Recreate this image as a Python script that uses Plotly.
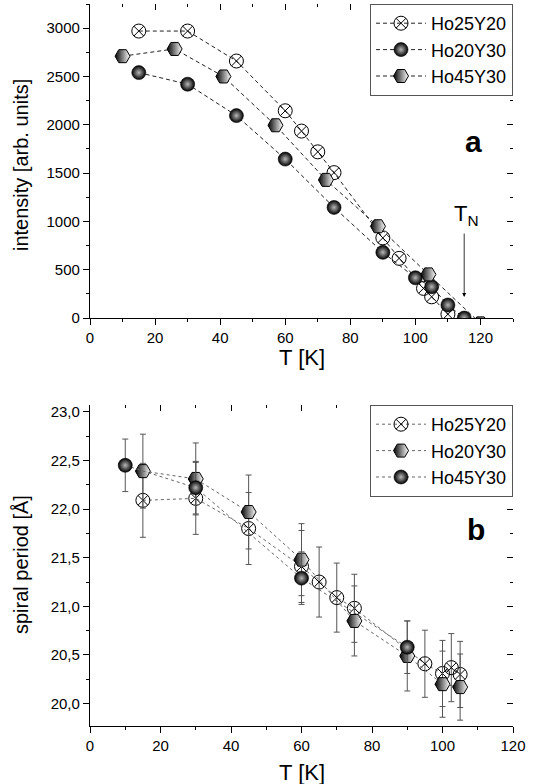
import plotly.graph_objects as go

# ---------- panel a : intensity vs T ----------
a_T_25 = [15, 30, 45, 60, 65, 70, 75, 90, 95, 102.5, 105, 110]
a_I_25 = [2970, 2970, 2660, 2145, 1935, 1720, 1505, 830, 618, 307, 220, 40]
a_T_20 = [15, 30, 45, 60, 75, 90, 100, 105, 110, 115]
a_I_20 = [2540, 2420, 2095, 1645, 1145, 680, 417, 324, 135, 0]
a_T_45 = [10, 26, 41, 57, 72.5, 88.5, 104, 120]
a_I_45 = [2710, 2785, 2500, 1995, 1430, 950, 452, -55]

# ---------- panel b : spiral period vs T ----------
b_T_25 = [15, 30, 45, 60, 65, 70, 75, 95, 100, 102.5, 105]
b_P_25 = [22.09, 22.11, 21.80, 21.41, 21.25, 21.09, 20.98, 20.41, 20.31, 20.37, 20.30]
b_E_25 = [0.38, 0.37, 0.37, 0.37, 0.36, 0.355, 0.35, 0.345, 0.34, 0.35, 0.34]
b_T_20 = [15, 30, 45, 60, 75, 90, 100, 105]
b_P_20 = [22.39, 22.31, 21.97, 21.48, 20.85, 20.49, 20.20, 20.17]
b_E_20 = [0.38, 0.37, 0.38, 0.37, 0.36, 0.36, 0.34, 0.34]
b_T_45 = [10, 30, 60, 90]
b_P_45 = [22.45, 22.22, 21.29, 20.58]
b_E_45 = [0.27, 0.27, 0.27, 0.27]

names = ["Ho25Y20", "Ho20Y30", "Ho45Y30"]

FONT = "Liberation Sans, Arial, sans-serif"

cross = dict(symbol="circle-x-open", size=14, color="black", line=dict(width=1, color="black"))
sphere = dict(symbol="circle", size=14, color="black",
              gradient=dict(type="radial", color="#b8b8b8"), line=dict(width=0.6, color="black"))
hexm = dict(symbol="hexagon2", size=15, color="black",
            gradient=dict(type="horizontal", color="white"), line=dict(width=1, color="black"))

dash_a = dict(color="#222", width=1, dash="4px,3px")
dot_b = dict(color="#666", width=1, dash="dot")

fig = go.Figure()

# panel a
fig.add_trace(go.Scatter(x=a_T_25, y=a_I_25, mode="lines+markers", name=names[0],
                         line=dash_a, marker=cross, xaxis="x", yaxis="y", legend="legend"))
fig.add_trace(go.Scatter(x=a_T_20, y=a_I_20, mode="lines+markers", name=names[1],
                         line=dash_a, marker=sphere, xaxis="x", yaxis="y", legend="legend"))
fig.add_trace(go.Scatter(x=a_T_45, y=a_I_45, mode="lines+markers", name=names[2],
                         line=dash_a, marker=hexm, xaxis="x", yaxis="y", legend="legend"))

# panel b
eb = dict(type="data", color="#555", thickness=1, width=3)
fig.add_trace(go.Scatter(x=b_T_25, y=b_P_25, mode="lines+markers", name=names[0],
                         error_y=dict(eb, array=b_E_25),
                         line=dot_b, marker=cross, xaxis="x2", yaxis="y2", legend="legend2"))
fig.add_trace(go.Scatter(x=b_T_20, y=b_P_20, mode="lines+markers", name=names[1],
                         error_y=dict(eb, array=b_E_20),
                         line=dot_b, marker=hexm, xaxis="x2", yaxis="y2", legend="legend2"))
fig.add_trace(go.Scatter(x=b_T_45, y=b_P_45, mode="lines+markers", name=names[2],
                         error_y=dict(eb, array=b_E_45),
                         line=dot_b, marker=sphere, xaxis="x2", yaxis="y2", legend="legend2"))

dom_a = [0.565, 1.0]
dom_b = [0.0, 0.4446]
xr_a = [0, 130]
yr_a = [0, 3250]
xr_b = [0, 120]
yr_b = [19.77, 23.07]

tickfont = dict(family=FONT, size=15, color="black")
base = dict(showline=True, linecolor="black", linewidth=1.2, showgrid=False, zeroline=False,
            ticks="outside", ticklen=6, tickwidth=1, tickcolor="black", tickfont=tickfont,
            automargin=False)
mirror_base = dict(showline=False, showgrid=False, zeroline=False, ticks="inside", ticklen=6,
                   tickwidth=1, tickcolor="black", showticklabels=False, automargin=False)

legfont = dict(family=FONT, size=18, color="black")

fig.update_layout(
    width=541, height=784,
    margin=dict(l=90, r=28, t=4, b=58),
    paper_bgcolor="white", plot_bgcolor="white",
    separators=", ",
    font=dict(family=FONT, color="black"),
    xaxis=dict(base, domain=[0, 1], anchor="y", range=xr_a, dtick=20,
               minor=dict(dtick=10, ticks="outside", ticklen=3, tickcolor="black")),
    yaxis=dict(base, domain=dom_a, anchor="x", range=yr_a, dtick=500, tickformat="d",
               minor=dict(dtick=250, ticks="outside", ticklen=3, tickcolor="black")),
    xaxis3=dict(mirror_base, overlaying="x", side="top", anchor="y", range=xr_a, dtick=20,
                minor=dict(dtick=10, ticks="inside", ticklen=3, tickcolor="black")),
    yaxis3=dict(mirror_base, overlaying="y", side="right", anchor="x", range=yr_a, dtick=500,
                minor=dict(dtick=250, ticks="inside", ticklen=3, tickcolor="black")),
    xaxis2=dict(base, domain=[0, 1], anchor="y2", range=xr_b, dtick=20,
                minor=dict(dtick=10, ticks="outside", ticklen=3, tickcolor="black")),
    yaxis2=dict(base, domain=dom_b, anchor="x2", range=yr_b, dtick=0.5, tick0=20, tickformat=".1f",
                minor=dict(dtick=0.25, ticks="outside", ticklen=3, tickcolor="black")),
    xaxis4=dict(mirror_base, overlaying="x2", side="top", anchor="y2", range=xr_b, dtick=20,
                minor=dict(dtick=10, ticks="inside", ticklen=3, tickcolor="black")),
    yaxis4=dict(mirror_base, overlaying="y2", side="right", anchor="x2", range=yr_b, dtick=0.5, tick0=20,
                minor=dict(dtick=0.25, ticks="inside", ticklen=3, tickcolor="black")),
    legend=dict(x=1, xanchor="right", y=1, yanchor="top", bgcolor="white",
                bordercolor="#555", borderwidth=1, font=legfont,
                tracegroupgap=0, itemwidth=50),
    legend2=dict(x=1, xanchor="right", y=dom_b[1], yanchor="top", bgcolor="white",
                 bordercolor="#555", borderwidth=1, font=legfont,
                 tracegroupgap=0, itemwidth=50),
    showlegend=True,
)

# dummy traces so that the mirror axes are drawn
fig.add_trace(go.Scatter(x=[None], y=[None], xaxis="x3", yaxis="y3", showlegend=False, hoverinfo="skip"))
fig.add_trace(go.Scatter(x=[None], y=[None], xaxis="x4", yaxis="y4", showlegend=False, hoverinfo="skip"))

# axis titles
tf = dict(family=FONT, size=22, color="black")
tfy = dict(family=FONT, size=20, color="black")
fig.add_annotation(x=0.5, y=0.511, xref="paper", yref="paper", text="T [K]", showarrow=False,
                   font=tf, yanchor="middle")
fig.add_annotation(x=0.5, y=-0.065, xref="paper", yref="paper", text="T [K]", showarrow=False,
                   font=tf, yanchor="middle")
fig.add_annotation(x=-0.163, y=0.777, xref="paper", yref="paper", text="intensity [arb. units]",
                   showarrow=False, font=tfy, textangle=-90, xanchor="center", yanchor="middle")
fig.add_annotation(x=-0.163, y=0.223, xref="paper", yref="paper", text="spiral period [Å]",
                   showarrow=False, font=tfy, textangle=-90, xanchor="center", yanchor="middle")

# panel labels and T_N
fig.add_annotation(x=118, y=1830, xref="x", yref="y", text="<b>a</b>", showarrow=False,
                   font=dict(family=FONT, size=30, color="black"))
fig.add_annotation(x=109.5, y=21.79, xref="x2", yref="y2", text="<b>b</b>", showarrow=False,
                   font=dict(family=FONT, size=30, color="black"))
fig.add_annotation(x=115.6, y=1066, xref="x", yref="y", text="T<sub>N</sub>", showarrow=False,
                   font=dict(family=FONT, size=22, color="black"))
fig.add_annotation(x=115, y=217, ax=115, ay=890, xref="x", yref="y", axref="x", ayref="y",
                   text="", showarrow=True, arrowhead=2, arrowsize=1, arrowwidth=0.8, arrowcolor="black")

fig.write_html("out.html", config={"displayModeBar": False},
               post_script="document.body.style.margin='0';document.body.style.overflow='hidden';")
